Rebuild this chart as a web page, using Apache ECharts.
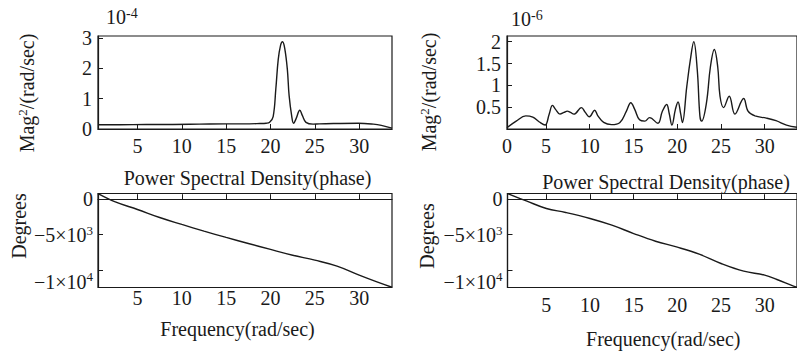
<!DOCTYPE html>
<html>
<head>
<meta charset="utf-8">
<script src="https://cdn.jsdelivr.net/npm/echarts@6/dist/echarts.min.js"></script>
<style>
html, body { margin: 0; padding: 0; background: #fff; }
#chart { width: 797px; height: 357px; }
</style>
</head>
<body>
<div id="chart"></div>
<script>
// PSD, left response (x 1e-4)
var psdLeftFreq = [0.55, 3, 6, 9, 12, 15, 17, 18.8, 19.5, 19.9, 20.3, 20.6, 20.87, 21.14, 21.36, 21.6, 21.9, 22.1, 22.4, 22.6, 22.9, 23.3, 23.6, 24.0, 24.8, 25.5, 27.1, 29.9, 31.6, 32.5, 33.7];
var psdLeftMag  = [0.14, 0.14, 0.15, 0.15, 0.16, 0.17, 0.17, 0.18, 0.19, 0.22, 0.41, 1.32, 2.29, 2.77, 2.88, 2.67, 1.97, 1.1, 0.41, 0.19, 0.35, 0.62, 0.44, 0.22, 0.16, 0.17, 0.18, 0.19, 0.16, 0.12, 0.03];

// PSD, right response (x 1e-6)
var psdRightFreq = [0.55, 1.6, 2.7, 3.5, 4.25, 4.9, 5.37, 5.75, 6.1, 6.6, 7.07, 7.44, 7.8, 8.2, 9.06, 9.5, 9.97, 10.56, 10.94, 11.6, 12.5, 13.46, 14.2, 14.7, 15.15, 15.7, 16.3, 16.85, 17.8, 18.3, 18.8, 19.1, 19.4, 19.8, 20.1, 20.4, 20.6, 21.1, 21.5, 21.9, 22.3, 22.6, 22.8, 23.35, 23.8, 24.25, 24.64, 24.9, 25.3, 25.95, 26.6, 27.6, 28.1, 28.9, 30.2, 31.3, 32.5, 33.7];
var psdRightMag  = [0.03, 0.18, 0.30, 0.27, 0.16, 0.09, 0.34, 0.54, 0.45, 0.34, 0.38, 0.41, 0.38, 0.34, 0.49, 0.38, 0.28, 0.43, 0.30, 0.15, 0.10, 0.15, 0.41, 0.60, 0.45, 0.21, 0.18, 0.26, 0.13, 0.40, 0.56, 0.35, 0.09, 0.45, 0.62, 0.35, 0.15, 0.97, 1.57, 2.0, 1.35, 0.30, 0.18, 0.60, 1.42, 1.82, 1.42, 0.75, 0.49, 0.75, 0.34, 0.70, 0.41, 0.30, 0.25, 0.19, 0.09, 0.04];

// phase (degrees)
var phaseLeftFreq = [0.55, 2.5, 5, 7.5, 10, 12.5, 15, 17.5, 20, 22.5, 25, 27.5, 30, 32, 33.7];
var phaseLeftDeg  = [780, -380, -1450, -2580, -3560, -4500, -5390, -6240, -7080, -7890, -8590, -9430, -10700, -11650, -12400];
var phaseRightFreq = [0.55, 2.7, 5, 7.2, 10, 12.5, 15, 17.5, 20, 22.5, 25, 27.6, 30, 31.4, 33.3, 33.7];
var phaseRightDeg  = [780, -240, -1310, -1870, -2720, -3660, -4840, -5920, -6760, -7750, -9060, -10140, -10700, -11310, -12250, -12400];

var freqTicks = [5, 10, 15, 20, 25, 30];
var phaseTicks = [0, -5000, -10000];
var phaseTickLabels = ['0', '{t|\u22125\u00d710}{s|3}', '{tl|\u22121\u00d710}{sl|4}'];

function pairs(xs, ys) {
    return xs.map(function (x, i) { return [x, ys[i]]; });
}

var ink = '#1a1a1a';
var font = 'Liberation Serif';
var supRich = {
    t: { fontFamily: font, fontSize: 20, color: ink },
    s: { fontFamily: font, fontSize: 13, color: ink, verticalAlign: 'top', padding: [0, 0, 9, 0] },
    // lowest label sits a little under its tick in the original
    tl: { fontFamily: font, fontSize: 20, color: ink, padding: [24, 0, 0, 0] },
    sl: { fontFamily: font, fontSize: 13, color: ink, verticalAlign: 'top', padding: [22, 0, 0, 0] }
};

function xAxis(grid, ticks, margin, name, gap, pad, fmt) {
    return {
        type: 'value', gridIndex: grid, min: 0.55, max: 33.7,
        axisLine: { show: true, lineStyle: { color: ink, width: 1.2 } },
        axisTick: { inside: true, length: 5, customValues: ticks, lineStyle: { color: ink } },
        axisLabel: { customValues: ticks, margin: margin, fontFamily: font, fontSize: 20, color: ink,
            formatter: fmt || function (v) { return String(v); } },
        splitLine: { show: false },
        name: name, nameLocation: 'middle', nameGap: gap,
        nameTextStyle: { fontFamily: font, fontSize: 20, color: ink, padding: pad, verticalAlign: 'top' }
    };
}

function yBase(grid) {
    return {
        type: 'value', gridIndex: grid,
        axisLine: { show: true, lineStyle: { color: ink, width: 1.2 } },
        axisTick: { inside: true, length: 5, lineStyle: { color: ink } },
        axisLabel: { margin: 6, fontFamily: font, fontSize: 20, color: ink },
        splitLine: { show: false }
    };
}

var yTL = Object.assign(yBase(0), { min: 0, max: 3.07, interval: 1 });
var yTR = Object.assign(yBase(1), { min: 0, max: 2.13, interval: 0.5 });
yTR.axisLabel.showMinLabel = false;

function yPhase(grid) {
    var y = Object.assign(yBase(grid), { min: -12440, max: 800 });
    y.axisTick.customValues = phaseTicks;
    y.axisLabel.customValues = phaseTicks;
    y.axisLabel.margin = 5;
    y.axisLabel.rich = supRich;
    y.axisLabel.formatter = function (v) { return phaseTickLabels[phaseTicks.indexOf(v)]; };
    return y;
}

// rotated y titles and the 10^n multipliers
function sideTitle(x, y, text) {
    return { type: 'text', x: x, y: y, rotation: Math.PI / 2,
        style: { text: text, fontFamily: font, fontSize: 20, fill: ink, align: 'center', verticalAlign: 'middle',
            rich: { s: { fontFamily: font, fontSize: 13, fill: ink, verticalAlign: 'top', padding: [0, 0, 9, 0] } } } };
}
function multiplier(x, y, text) {
    return { type: 'text', left: x, top: y,
        style: { text: text, fontFamily: font, fontSize: 20, fill: ink,
            rich: { s: { fontFamily: font, fontSize: 14, fill: ink, verticalAlign: 'top', padding: [0, 0, 8, 0] } } } };
}

var gridStyle = { show: true, borderColor: ink, borderWidth: 1.2, containLabel: false };

var option = {
    animation: false,
    backgroundColor: '#fff',
    grid: [
        Object.assign({ left: 98, top: 36, width: 294, height: 93 }, gridStyle),
        Object.assign({ left: 507, top: 36, right: -4, height: 93 }, gridStyle),
        Object.assign({ left: 98, top: 193.5, width: 294, height: 94 }, gridStyle),
        Object.assign({ left: 507.5, top: 193.5, right: -4, height: 94 }, gridStyle)
    ],
    xAxis: [
        xAxis(0, freqTicks, 7, 'Power Spectral Density(phase)', 39, [0, 0, 0, 5]),
        xAxis(1, [0.55].concat(freqTicks), 7, 'Power Spectral Density(phase)', 43, [0, 0, 0, 28],
            function (v) { return v < 1 ? '0' : String(v); }),
        xAxis(2, freqTicks, 0, 'Frequency(rad/sec)', 31, [0, 15, 0, 0]),
        xAxis(3, freqTicks, 7, 'Frequency(rad/sec)', 41, [0, 0, 0, 22])
    ],
    yAxis: [yTL, yTR, yPhase(2), yPhase(3)],
    graphic: [
        multiplier(106, 6, '10{s|-4}'),
        multiplier(511, 8, '10{s|-6}'),
        sideTitle(27, 93, 'Mag{s|2}/(rad/sec)'),
        sideTitle(429, 92, 'Mag{s|2}/(rad/sec)'),
        sideTitle(19, 226, 'Degrees'),
        sideTitle(427, 236, 'Degrees')
    ],
    series: [
        { type: 'line', xAxisIndex: 0, yAxisIndex: 0, data: pairs(psdLeftFreq, psdLeftMag) },
        { type: 'line', xAxisIndex: 1, yAxisIndex: 1, data: pairs(psdRightFreq, psdRightMag) },
        { type: 'line', xAxisIndex: 2, yAxisIndex: 2, data: pairs(phaseLeftFreq, phaseLeftDeg) },
        { type: 'line', xAxisIndex: 3, yAxisIndex: 3, data: pairs(phaseRightFreq, phaseRightDeg) }
    ].map(function (s) {
        return Object.assign(s, { smooth: 0.4, symbol: 'none', clip: true,
            lineStyle: { color: ink, width: 1.4 } });
    })
};

var chart = echarts.init(document.getElementById('chart'), null, { renderer: 'svg' });
chart.setOption(option);
</script>
</body>
</html>
